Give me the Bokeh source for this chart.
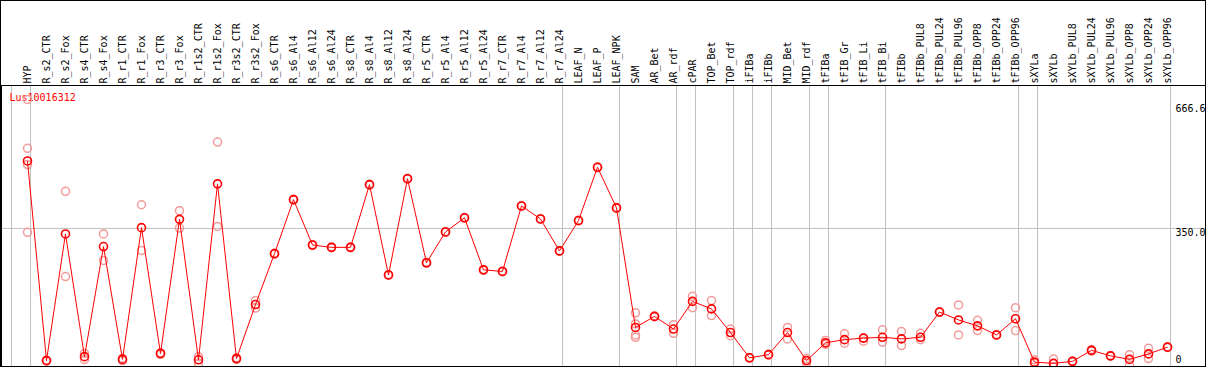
from bokeh.plotting import figure
from bokeh.models import Range1d, FixedTicker, Span
from bokeh.core.properties import value
from bokeh.embed import file_html
from bokeh.resources import INLINE

gene = "Lus10016312"

samples = [
    "HYP", "R_s2_CTR", "R_s2_Fox", "R_s4_CTR", "R_s4_Fox", "R_r1_CTR", "R_r1_Fox",
    "R_r3_CTR", "R_r3_Fox", "R_r1s2_CTR", "R_r1s2_Fox", "R_r3s2_CTR", "R_r3s2_Fox",
    "R_s6_CTR", "R_s6_Al4", "R_s6_Al12", "R_s6_Al24", "R_s8_CTR", "R_s8_Al4",
    "R_s8_Al12", "R_s8_Al24", "R_r5_CTR", "R_r5_Al4", "R_r5_Al12", "R_r5_Al24",
    "R_r7_CTR", "R_r7_Al4", "R_r7_Al12", "R_r7_Al24", "LEAF_N", "LEAF_P", "LEAF_NPK",
    "SAM", "AR_Bet", "AR_rdf", "cPAR", "TOP_Bet", "TOP_rdf", "iFIBa", "iFIBb",
    "MID_Bet", "MID_rdf", "tFIBa", "tFIB_Gr", "tFIB_Li", "tFIB_Bi", "tFIBb",
    "tFIBb_PUL8", "tFIBb_PUL24", "tFIBb_PUL96", "tFIBb_OPP8", "tFIBb_OPP24",
    "tFIBb_OPP96", "sXYLa", "sXYLb", "sXYLb_PUL8", "sXYLb_PUL24", "sXYLb_PUL96",
    "sXYLb_OPP8", "sXYLb_OPP24", "sXYLb_OPP96",
]

means = [
    521, 15, 336, 25, 304, 18, 352, 33, 373, 17, 463, 20, 157,
    286, 423, 308, 302, 302, 461, 232, 476, 263, 341, 377, 245,
    241, 407, 374, 293, 370, 505, 402,
    99, 127, 95, 165, 146, 86, 22, 30, 86, 15, 60, 68, 72, 74, 70,
    74, 138, 118, 103, 80, 121, 11, 8, 13, 41, 27, 18, 32, 49,
]

replicates = [
    [677, 553, 512, 340], [16, 14], [444, 228], [33, 18], [336, 269], [21, 15],
    [410, 294], [35, 31], [395, 351], [25, 8], [569, 355], [22, 18], [167, 148],
    [287, 285], [424, 422], [309, 307], [303, 301], [303, 301], [462, 460],
    [233, 231], [477, 475], [264, 262], [342, 340], [378, 376], [246, 244],
    [242, 240], [408, 406], [375, 373], [294, 292], [371, 369], [506, 504],
    [403, 401],
    [136, 108, 80, 74], [128, 126], [106, 84], [178, 149], [167, 129], [95, 78],
    [23, 21], [31, 29], [99, 70], [20, 9], [66, 56], [83, 59], [72, 64], [93, 62],
    [89, 53], [84, 68], [139, 137], [156, 80], [117, 91], [81, 79], [149, 91],
    [17, 8], [19, 0], [14, 12], [43, 39], [28, 26], [30, 4], [46, 20], [50, 48],
]

# indices of the last sample of each group (-1 = before the first sample)
group_ends = [-1, 0, 28, 31, 34, 35, 37, 38, 39, 41, 42, 45, 52, 53, 60]
ref_level = 350.0
y_ticks = [0, 350.0, 666.6]
y_tick_labels = ["0", "350.0", "666.6"]

MONO = "DejaVu Sans Mono"
RED = "#ff0000"
PINK = "#f29b9b"
GRAY = "#c0c0c0"

xs = list(range(len(samples)))

p = figure(
    width=1206, height=367,
    output_backend="svg", toolbar_location=None,
    x_range=Range1d(-1.368, 62.105), y_range=Range1d(-5.07, 712.3),
    x_axis_location="above", y_axis_location=None,
    min_border_left=0, min_border_right=0, min_border_bottom=0, min_border_top=84,
)
p.styles = {"border": "1px solid black"}
p.background_fill_color = "white"
p.border_fill_color = "white"
p.outline_line_color = "black"
p.outline_line_width = 1
p.outline_line_alpha = 1.0
p.grid.visible = False

ax = p.xaxis[0]
ax.ticker = FixedTicker(ticks=xs)
ax.major_label_overrides = {i: s for i, s in enumerate(samples)}
ax.major_label_orientation = "vertical"
ax.major_tick_in = 0
ax.major_tick_out = 0
ax.minor_tick_in = 0
ax.minor_tick_out = 0
ax.major_label_standoff = 2
ax.axis_line_color = "black"
ax.major_label_text_font = MONO
ax.major_label_text_font_size = "10px"
ax.major_label_text_color = "black"

for g in group_ends:
    p.add_layout(Span(location=g + 0.16, dimension="height", line_color=GRAY,
                      line_width=1, level="underlay"))
p.add_layout(Span(location=ref_level, dimension="width", line_color=GRAY,
                  line_width=1, level="underlay"))

# gene name
p.text(x=[-0.947], y=[682], text=[gene], text_color=RED,
       text_font=value(MONO), text_font_size="10px",
       text_align="left", text_baseline="middle")

# replicates
rx, ry = [], []
for i, reps in enumerate(replicates):
    for r in reps:
        rx.append(i)
        ry.append(r)
p.scatter(rx, ry, marker="circle", size=8, fill_color=None,
          line_color=PINK, line_width=1.5)

# mean line + markers
p.line(xs, means, line_color=RED, line_width=1)
p.scatter(xs, means, marker="circle", size=8, fill_color=None,
          line_color=RED, line_width=1.6)

# value labels at right
lab_x = 60.42
top_t = [t for t in y_ticks if t > 0]
top_l = [l for t, l in zip(y_ticks, y_tick_labels) if t > 0]
bot_t = [t for t in y_ticks if t <= 0]
bot_l = [l for t, l in zip(y_ticks, y_tick_labels) if t <= 0]
p.text(x=[lab_x] * len(top_t), y=top_t, text=top_l, text_color="black",
       text_font=value(MONO), text_font_size="10px",
       text_align="left", text_baseline="top")
p.text(x=[lab_x] * len(bot_t), y=bot_t, text=bot_l, text_color="black",
       text_font=value(MONO), text_font_size="10px",
       text_align="left", text_baseline="bottom", y_offset=-3)

open("out.html", "w").write(file_html(p, INLINE))
